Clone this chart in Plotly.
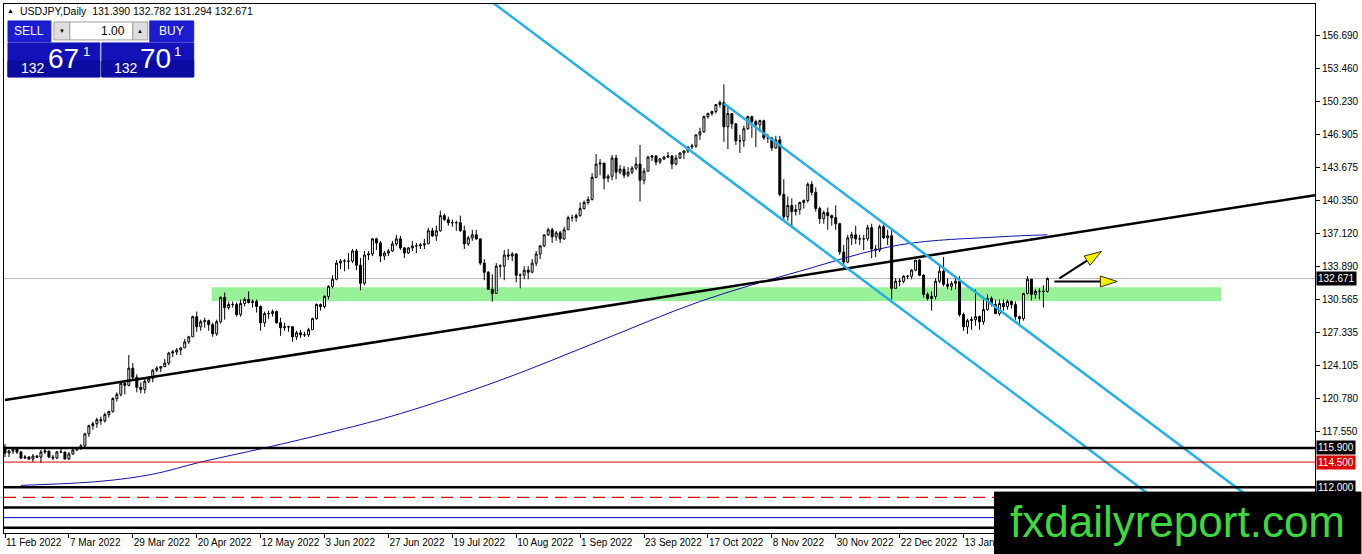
import plotly.graph_objects as go
import pandas as pd
import math

# USDJPY daily bars, 11 Feb 2022 .. 13 Feb 2023 (weekdays)
dates = pd.bdate_range("2022-02-11", "2023-02-13")

opens = [
    116.0, 115.4, 115.6, 115.8, 115.5, 114.9, 115.0, 114.8, 115.1, 115.0, 115.5, 115.6,
    115.0, 114.9, 115.5, 115.5, 114.8, 115.3, 115.7, 115.9, 116.1, 117.3, 118.1, 118.3, 118.7, 118.6, 119.2, 119.5, 120.8, 121.2, 122.3, 122.1, 123.8, 122.9, 121.9,
    121.7, 122.5, 122.8, 123.6, 123.8, 123.95, 124.3, 125.3, 125.4, 125.6, 125.8, 126.4, 126.9, 128.9, 127.9, 128.4, 128.5, 128.1, 127.2, 128.4, 130.8,
    129.8, 130.1, 130.1, 129.1, 130.2, 130.6, 130.3, 130.4, 129.9, 128.3, 129.2, 129.2, 129.4, 128.3, 127.8, 127.9, 127.9, 126.9, 127.3, 127.1, 127.1, 127.6,
    128.7, 130.1, 129.9, 130.9, 131.9, 132.6, 134.2, 134.4, 134.4, 134.4, 135.4, 134.0, 132.2, 135.0, 135.1, 136.6, 136.2, 134.9, 135.2, 135.4, 136.1, 136.6,
    135.7, 135.2, 135.7, 135.9, 135.9, 136.0, 136.1, 137.4, 136.9, 137.4, 138.9, 138.5, 138.2, 138.2, 138.2, 137.4, 136.1, 136.7, 137.0, 136.6, 134.2,
    133.3, 131.6, 131.2, 133.9, 133.9, 135.0, 134.9, 135.1, 133.0, 133.0, 133.5, 133.3, 134.2, 135.1, 135.9, 137.0, 137.5, 136.8, 137.2, 136.6, 137.5, 138.7, 138.7,
    138.9, 139.6, 140.2, 140.5, 142.7, 144.0, 144.1, 142.6, 142.8, 144.6, 143.2, 143.5, 142.9, 143.2, 143.6, 144.0, 142.4, 143.3, 144.7, 144.8, 144.2, 144.5,
    144.7, 144.8, 144.0, 144.6, 145.1, 145.3, 145.7, 145.8, 146.9, 147.2, 148.7, 149.0, 149.2, 149.9, 150.1, 147.7, 149.0, 148.0, 146.3, 146.3, 147.5,
    148.7, 148.2, 147.9, 148.3, 146.6, 146.6, 145.6, 146.4, 141.0, 138.8, 139.9, 139.3, 139.5, 140.2, 140.4, 142.0, 141.2, 139.6, 138.6, 139.2, 138.9, 138.7,
    138.1, 135.3, 134.3, 136.7, 137.0, 136.6, 136.6, 136.6, 137.7, 135.6, 135.5, 137.8, 136.7, 136.9, 131.7, 132.4, 132.4, 132.9, 132.9, 133.5, 134.5, 133.0,
    131.1, 130.7, 130.9, 132.4, 133.4, 132.1, 131.9, 132.2, 132.4, 129.1, 127.9, 128.5, 128.6, 128.9, 128.4, 129.6, 130.7, 130.1, 129.2, 130.2, 129.9, 130.4,
    130.1, 128.9, 128.7, 131.2, 132.6, 131.1, 131.4, 131.4, 131.390,
]
highs = [
    116.3, 115.7, 115.9, 115.9, 115.6, 115.2, 115.1, 115.3, 115.2, 115.7, 115.8, 115.6,
    115.2, 115.6, 115.8, 115.5, 115.5, 115.8, 116.0, 116.3, 117.4, 118.2, 118.5, 118.9, 119.0, 119.4, 119.6, 120.9, 121.4, 122.4, 122.4, 125.1, 124.3, 123.2, 122.4,
    122.8, 123.0, 123.7, 124.0, 124.0, 124.7, 125.4, 125.6, 125.8, 125.9, 126.7, 127.0, 129.0, 129.4, 128.6, 128.8, 128.6, 128.3, 128.6, 130.9, 131.3,
    130.4, 130.4, 130.3, 130.6, 130.8, 131.4, 130.6, 130.6, 130.0, 129.4, 129.5, 129.6, 129.5, 128.8, 128.3, 128.0, 127.9, 127.5, 127.6, 127.4, 127.8, 128.8,
    130.2, 130.2, 131.0, 132.0, 133.0, 134.5, 134.6, 134.6, 135.2, 135.6, 135.6, 134.7, 135.4, 135.4, 136.7, 136.7, 136.4, 135.4, 135.6, 136.4, 137.0, 136.9,
    135.8, 135.8, 136.4, 136.2, 136.2, 136.6, 137.7, 137.7, 137.9, 139.4, 139.1, 138.8, 138.5, 138.4, 138.9, 137.9, 136.9, 137.5, 137.5, 136.6, 134.6,
    133.4, 133.1, 134.2, 134.1, 135.5, 135.6, 135.3, 135.2, 133.2, 133.9, 133.9, 134.6, 135.4, 136.0, 137.0, 137.7, 137.7, 137.4, 137.4, 137.8, 138.9, 139.0, 139.1,
    140.2, 140.4, 140.8, 143.1, 145.0, 144.5, 144.1, 143.0, 144.9, 144.9, 143.9, 143.8, 143.7, 143.8, 144.7, 145.9, 143.6, 144.8, 144.9, 144.9, 144.6, 144.8,
    145.2, 144.9, 144.9, 145.2, 145.4, 145.7, 146.0, 146.9, 147.6, 148.8, 149.1, 149.3, 149.9, 150.3, 151.9, 149.7, 149.0, 148.0, 146.9, 147.8, 148.8,
    148.8, 148.4, 148.4, 148.4, 147.0, 146.7, 146.8, 146.8, 142.5, 140.8, 140.6, 140.0, 140.3, 140.5, 142.2, 142.3, 141.7, 139.8, 139.4, 139.7, 139.0, 139.9,
    138.2, 136.0, 137.0, 137.3, 137.9, 137.0, 137.0, 138.0, 138.1, 136.0, 138.0, 138.0, 137.5, 137.5, 132.7, 132.7, 133.0, 133.0, 133.6, 134.5, 134.6, 133.1,
    131.3, 131.4, 132.7, 134.0, 134.8, 132.7, 132.4, 132.8, 132.9, 129.3, 128.7, 128.9, 131.6, 129.0, 130.6, 131.1, 130.9, 130.6, 130.6, 130.6, 130.6, 130.5,
    130.4, 129.0, 131.2, 132.9, 132.6, 131.6, 131.7, 132.0, 132.782,
]
lows = [
    115.0, 115.0, 115.3, 115.3, 114.8, 114.8, 114.7, 114.5, 114.9, 114.4, 115.3, 114.9,
    114.7, 114.8, 115.4, 114.8, 114.7, 115.2, 115.6, 115.7, 116.0, 117.0, 117.7, 117.9, 118.2, 118.4, 118.9, 119.4, 120.5, 121.0, 121.2, 122.0, 122.7, 121.4, 121.3,
    121.3, 122.3, 122.4, 123.4, 123.4, 123.9, 124.1, 124.9, 125.1, 125.1, 125.8, 126.2, 126.9, 127.4, 127.5, 127.8, 127.5, 126.9, 127.0, 128.2, 128.6,
    129.6, 129.8, 128.9, 128.9, 129.9, 130.2, 129.8, 129.3, 127.5, 127.9, 128.7, 128.9, 128.2, 127.0, 127.5, 127.4, 126.4, 126.6, 126.8, 126.9, 126.9, 127.6,
    128.6, 129.5, 129.7, 130.6, 131.7, 132.5, 133.6, 133.4, 133.6, 134.2, 133.5, 131.5, 132.0, 134.5, 134.9, 135.5, 134.3, 134.5, 134.9, 135.3, 135.9, 135.5,
    134.7, 135.1, 135.4, 135.2, 135.6, 135.6, 136.1, 136.8, 136.4, 137.3, 138.4, 137.9, 137.8, 137.4, 137.3, 135.6, 135.9, 136.4, 136.5, 134.0, 132.5,
    131.6, 130.4, 131.2, 132.8, 132.5, 134.5, 134.4, 132.3, 131.7, 132.6, 132.6, 133.2, 133.9, 134.6, 135.8, 136.9, 136.2, 136.4, 136.2, 136.5, 137.5, 138.3, 138.3,
    138.8, 139.5, 140.0, 140.4, 142.6, 142.9, 141.5, 142.2, 142.4, 142.5, 143.0, 142.6, 142.7, 143.0, 143.4, 140.3, 142.0, 143.3, 144.3, 143.9, 144.0, 144.4,
    144.6, 143.5, 143.9, 144.5, 144.5, 145.1, 145.5, 145.6, 146.4, 147.1, 148.5, 148.8, 149.0, 149.6, 146.2, 145.5, 147.5, 145.9, 145.1, 145.7, 147.4,
    146.6, 145.7, 147.2, 146.4, 146.1, 145.3, 145.5, 140.8, 138.5, 138.4, 137.7, 138.9, 139.0, 139.6, 140.2, 140.9, 139.3, 138.1, 138.1, 137.5, 137.9, 137.5,
    135.0, 133.6, 134.2, 136.0, 136.1, 136.0, 135.5, 136.4, 134.7, 134.8, 135.3, 136.6, 136.0, 130.6, 131.7, 131.9, 132.2, 132.6, 132.6, 133.4, 132.9, 130.8,
    130.5, 129.5, 130.6, 132.2, 131.9, 131.6, 131.5, 131.6, 128.9, 127.5, 127.2, 127.6, 128.0, 127.6, 128.1, 129.5, 129.9, 129.2, 129.0, 129.5, 129.6, 129.7,
    128.6, 128.1, 128.5, 131.1, 130.5, 130.7, 130.6, 129.8, 131.294,
]
closes = [
    115.4, 115.6, 115.8, 115.5, 114.9, 115.0, 114.8, 115.1, 115.0, 115.5, 115.6, 115.0,
    114.9, 115.5, 115.5, 114.8, 115.3, 115.7, 115.9, 116.1, 117.3, 118.1, 118.3, 118.7, 118.6, 119.2, 119.5, 120.8, 121.2, 122.3, 122.1, 123.8, 122.9, 121.9, 121.7,
    122.5, 122.8, 123.6, 123.8, 123.95, 124.3, 125.3, 125.4, 125.6, 125.8, 126.4, 126.9, 128.9, 127.9, 128.4, 128.5, 128.1, 127.2, 128.4, 130.8, 129.8,
    130.1, 130.1, 129.1, 130.2, 130.6, 130.3, 130.4, 129.9, 128.3, 129.2, 129.2, 129.4, 128.3, 127.8, 127.9, 127.9, 126.9, 127.3, 127.1, 127.1, 127.6, 128.7,
    130.1, 129.9, 130.9, 131.9, 132.6, 134.2, 134.4, 134.4, 134.4, 135.4, 134.0, 132.2, 135.0, 135.1, 136.6, 136.2, 134.9, 135.2, 135.4, 136.1, 136.6, 135.7,
    135.2, 135.7, 135.9, 135.9, 136.0, 136.1, 137.4, 136.9, 137.4, 138.9, 138.5, 138.2, 138.2, 138.2, 137.4, 136.1, 136.7, 137.0, 136.6, 134.2, 133.3,
    131.6, 131.2, 133.9, 133.9, 135.0, 134.9, 135.1, 133.0, 133.0, 133.5, 133.3, 134.2, 135.1, 135.9, 137.0, 137.5, 136.8, 137.2, 136.6, 137.5, 138.7, 138.7, 138.9,
    139.6, 140.2, 140.5, 142.7, 144.0, 144.1, 142.6, 142.8, 144.6, 143.2, 143.5, 142.9, 143.2, 143.6, 144.0, 142.4, 143.3, 144.7, 144.8, 144.2, 144.5, 144.7,
    144.8, 144.0, 144.6, 145.1, 145.3, 145.7, 145.8, 146.9, 147.2, 148.7, 149.0, 149.2, 149.9, 150.1, 147.7, 149.0, 148.0, 146.3, 146.3, 147.5, 148.7,
    148.2, 147.9, 148.3, 146.6, 146.6, 145.6, 146.4, 141.0, 138.8, 139.9, 139.3, 139.5, 140.2, 140.4, 142.0, 141.2, 139.6, 138.6, 139.2, 138.9, 138.7, 138.1,
    135.3, 134.3, 136.7, 137.0, 136.6, 136.6, 136.6, 137.7, 135.6, 135.5, 137.8, 136.7, 136.9, 131.7, 132.4, 132.4, 132.9, 132.9, 133.5, 134.5, 133.0, 131.1,
    130.7, 130.9, 132.4, 133.4, 132.1, 131.9, 132.2, 132.4, 129.1, 127.9, 128.5, 128.6, 128.9, 128.4, 129.6, 130.7, 130.1, 129.2, 130.2, 129.9, 130.4, 130.1,
    128.9, 128.7, 131.2, 132.6, 131.1, 131.4, 131.4, 131.39, 132.671,
]

# 200-period moving average, read at a few bars
ma_idx = [4, 24, 37, 49, 65, 83, 99, 124, 149, 174, 199, 224, 249, 261]
ma_val = [112.2, 112.6, 113.3, 114.5, 115.9, 117.6, 119.3, 122.6, 126.5, 130.4, 133.4, 136.0, 136.8, 137.0]

# drawn objects (bar index, price)
trend_x, trend_y = [0, 328], [120.64, 140.93]
chan_up_x, chan_up_y = [180, 332], [150.0, 104.96]
chan_lo_x, chan_lo_y = [115, 307], [162.1, 105.2]
zone_x, zone_y = [51.75, 304.5], [130.45, 131.8]
levels = [115.9, 114.5, 112.0, 111.0, 110.0, 109.0, 108.0]
level_colors = ["black", "#e00000", "black", "#e00000", "black", "#0000c0", "black"]
level_widths = [2.5, 1, 2.5, 1.2, 2.5, 1, 2.5]
level_dash = ["solid", "solid", "solid", "12px,7px", "solid", "solid", "solid"]
level_tags = [115.9, 114.5, 112.0]
arrows = [((264.0, 132.68), (274.5, 135.35)), ((262.75, 132.38), (278.5, 132.38))]

bid, ask = 132.671, 132.701
y_ticks = [156.690, 153.460, 150.230, 146.905, 143.675, 140.350, 137.120, 133.890,
           130.565, 127.335, 124.105, 120.780, 117.550]

W, H = 1362, 554
L, R, T, B = 3, 46, 3, 21
PW, PH = W - L - R, H - T - B
XR = [-0.25, 328.0]
YR = [107.48, 159.852]

idx = list(range(len(dates)))
assert len(opens) == len(highs) == len(lows) == len(closes) == len(dates)

tick_idx = list(range(0, 241, 16))
tick_txt = [f"{dates[i].day} {dates[i].strftime('%b %Y')}" for i in tick_idx]

FONT = "Liberation Sans"

fig = go.Figure()
fig.add_trace(go.Candlestick(
    x=idx, open=opens, high=highs, low=lows, close=closes,
    increasing=dict(line=dict(color="black", width=1), fillcolor="white"),
    decreasing=dict(line=dict(color="black", width=1), fillcolor="black"),
    whiskerwidth=0, hoverinfo="skip",
))
fig.add_trace(go.Scatter(x=ma_idx, y=ma_val, mode="lines", line=dict(color="#1010a0", width=1, shape="spline")))
fig.add_trace(go.Scatter(x=trend_x, y=trend_y, mode="lines", line=dict(color="black", width=2.5)))
for cx, cy in [(chan_up_x, chan_up_y), (chan_lo_x, chan_lo_y)]:
    fig.add_trace(go.Scatter(x=cx, y=cy, mode="lines", line=dict(color="#22b0e6", width=2.5)))

shapes = []
# support zone (behind candles)
shapes.append(dict(type="rect", xref="x", yref="y", x0=zone_x[0], x1=zone_x[1], y0=zone_y[0], y1=zone_y[1],
                   fillcolor="#98f098", line=dict(width=0), layer="below"))
# current price line
shapes.append(dict(type="line", xref="paper", yref="y", x0=0, x1=1, y0=bid, y1=bid,
                   line=dict(color="#b8b8b8", width=1), layer="below"))
for lv, c, w, d in zip(levels, level_colors, level_widths, level_dash):
    shapes.append(dict(type="line", xref="paper", yref="y", x0=0, x1=1, y0=lv, y1=lv,
                       line=dict(color=c, width=w, dash=d)))

# arrows: black shaft, yellow head
kx = PW / (XR[1] - XR[0])
ky = PH / (YR[1] - YR[0])
for (x0, y0), (x1, y1) in arrows:
    dx, dy = (x1 - x0) * kx, (y1 - y0) * ky
    n = math.hypot(dx, dy)
    ux, uy = dx / n, dy / n
    hl, hw = 17, 5.5
    bx, by = x1 - hl * ux / kx, y1 - hl * uy / ky
    px_, py_ = -uy, ux
    p1 = (bx + hw * px_ / kx, by + hw * py_ / ky)
    p2 = (bx - hw * px_ / kx, by - hw * py_ / ky)
    shapes.append(dict(type="line", xref="x", yref="y", x0=x0, y0=y0, x1=bx, y1=by,
                       line=dict(color="black", width=2)))
    shapes.append(dict(type="path", xref="x", yref="y",
                       path=f"M {x1},{y1} L {p1[0]},{p1[1]} L {p2[0]},{p2[1]} Z",
                       fillcolor="#f4f000", line=dict(color="#303000", width=1)))


def pxx(v):
    return (v - L) / PW


def pxy(v):
    return 1 - (v - T) / PH


def box(x0, y0, x1, y1, fill, line_color=None):
    shapes.append(dict(type="rect", xref="paper", yref="paper", x0=pxx(x0), x1=pxx(x1),
                       y0=pxy(y1), y1=pxy(y0), fillcolor=fill,
                       line=dict(color=line_color or fill, width=1), layer="above"))


# one-click trading panel
box(7, 20, 50, 41, "#1c1cd0")
box(149, 20, 193, 41, "#1c1cd0")
box(53, 21, 69, 39, "#dedede", "#a0a0a0")
box(69, 21, 132, 39, "white", "#a0a0a0")
box(132, 21, 147, 39, "#dedede", "#a0a0a0")
box(7, 42, 99, 76, "#1212b8")
box(101, 42, 193, 76, "#1212b8")
box(7, 60, 99, 76, "#0c0ca0")
box(101, 60, 193, 76, "#0c0ca0")
# logo block
box(995, 492, 1362, 554, "black")

ann = []


def label(x, y, text, size, color="white", xanchor="center"):
    ann.append(dict(xref="paper", yref="paper", x=pxx(x), y=pxy(y), text=text, showarrow=False,
                    xanchor=xanchor, yanchor="middle", font=dict(family=FONT, size=size, color=color)))


big_b, small_b = f"{bid:.3f}".split(".")
big_a, small_a = f"{ask:.3f}".split(".")
label(10, 10, "▲", 7, "black")
label(17, 10, f"USDJPY,Daily  {opens[-1]:.3f} {highs[-1]:.3f} {lows[-1]:.3f} {closes[-1]:.3f}",
      10.5, "black", "left")
label(28, 30, "SELL", 12)
label(171, 30, "BUY", 12)
label(61, 30, "▼", 6, "black")
label(139.5, 30, "▲", 6, "black")
label(126, 30, "1.00", 12, "black", "right")
label(32, 67, big_b, 14)
label(63, 58, small_b[:2], 28)
label(86, 51, small_b[2], 13)
label(125, 67, big_a, 14)
label(155, 58, small_a[:2], 28)
label(177, 51, small_a[2], 13)
label(1178, 521, "fxdailyreport.com", 44, "#3ed83e")

for lv in level_tags + [bid]:
    ann.append(dict(xref="paper", yref="y", x=1, y=lv, xanchor="left", xshift=1, text=f"{lv:.3f}",
                    showarrow=False, bgcolor="#e00000" if lv == 114.5 else "black", borderpad=1,
                    font=dict(family=FONT, size=10, color="white")))

fig.update_layout(
    width=W, height=H, autosize=False,
    margin=dict(l=L, r=R, t=T, b=B),
    paper_bgcolor="white", plot_bgcolor="white",
    showlegend=False, shapes=shapes, annotations=ann,
    font=dict(family=FONT, size=10, color="black"),
    xaxis=dict(range=XR, rangeslider=dict(visible=False), showgrid=False, zeroline=False,
               tickmode="array", tickvals=tick_idx, ticktext=tick_txt, ticks="outside", ticklen=4,
               tickcolor="black", ticklabelposition="outside right", tickangle=0, showline=True,
               mirror=True, linecolor="black", linewidth=1, tickfont=dict(size=10)),
    yaxis=dict(range=YR, side="right", showgrid=False, zeroline=False, tickmode="array",
               tickvals=y_ticks, ticktext=[f"{v:.3f}" for v in y_ticks], ticks="outside", ticklen=4,
               tickcolor="black", showline=True, mirror=True, linecolor="black", linewidth=1,
               tickfont=dict(size=10)),
)

fig.write_html("out.html", config={"displayModeBar": False},
               post_script="document.body.style.margin='0';document.body.style.overflow='hidden';")
